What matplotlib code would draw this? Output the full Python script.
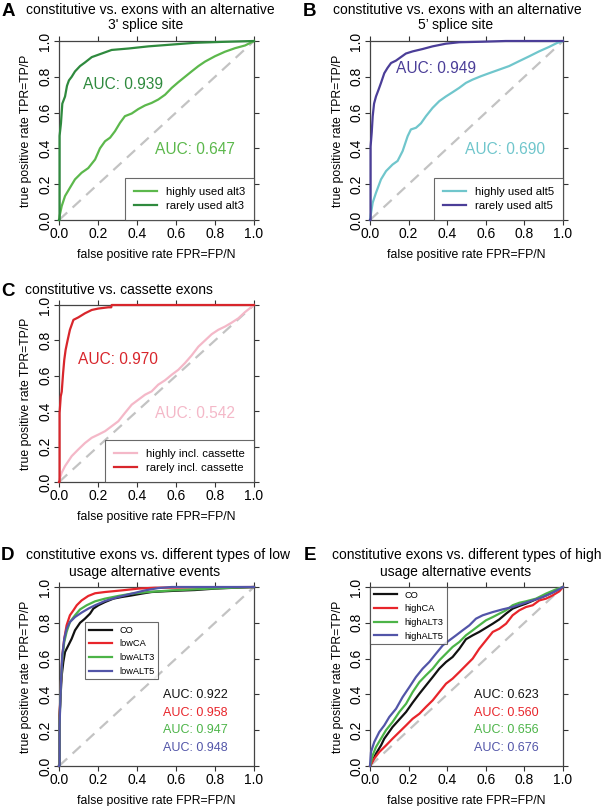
import matplotlib
matplotlib.use('Agg')
import matplotlib.pyplot as plt

plt.rcParams['font.family'] = ['Liberation Sans', 'DejaVu Sans']

# ---- data ----
# A: alternative 3' splice site
a_high_fpr = [0, 0.003, 0.014, 0.031, 0.056, 0.082, 0.116, 0.150, 0.185, 0.210, 0.236, 0.262, 0.287, 0.313, 0.338,
              0.373, 0.407, 0.441, 0.475, 0.509, 0.544, 0.578, 0.612, 0.646, 0.680, 0.715, 0.749, 0.800, 0.851,
              0.903, 0.954, 1.0]
a_high_tpr = [0, 0.022, 0.078, 0.134, 0.18, 0.227, 0.264, 0.29, 0.338, 0.40, 0.44, 0.46, 0.496, 0.543, 0.58,
              0.595, 0.62, 0.64, 0.654, 0.673, 0.70, 0.738, 0.77, 0.80, 0.83, 0.86, 0.885, 0.915, 0.94,
              0.96, 0.975, 1.0]
a_low_fpr = [0, 0.003, 0.003, 0.010, 0.017, 0.031, 0.041, 0.051, 0.065, 0.082, 0.108, 0.133, 0.168, 0.219, 0.270,
             0.356, 0.458, 0.578, 0.697, 0.834, 1.0]
a_low_tpr = [0, 0.0, 0.47, 0.54, 0.65, 0.69, 0.75, 0.78, 0.80, 0.83, 0.86, 0.88, 0.91, 0.93, 0.95,
             0.958, 0.97, 0.98, 0.99, 0.995, 1.0]

# B: alternative 5' splice site
b_high_fpr = [0, 0.003, 0.014, 0.031, 0.057, 0.083, 0.117, 0.143, 0.169, 0.195, 0.212, 0.238, 0.264, 0.290, 0.324,
              0.359, 0.393, 0.428, 0.462, 0.497, 0.531, 0.574, 0.617, 0.669, 0.721, 0.772, 0.824, 0.876, 0.928,
              0.971, 1.0]
b_high_tpr = [0, 0.022, 0.097, 0.152, 0.227, 0.273, 0.31, 0.33, 0.385, 0.468, 0.506, 0.515, 0.54, 0.58, 0.626,
              0.664, 0.69, 0.714, 0.738, 0.766, 0.784, 0.803, 0.82, 0.84, 0.86, 0.887, 0.914, 0.942, 0.967,
              0.99, 1.0]
b_low_fpr = [0, 0.003, 0.003, 0.009, 0.014, 0.021, 0.031, 0.045, 0.057, 0.074, 0.091, 0.109, 0.134, 0.160, 0.186,
             0.221, 0.272, 0.324, 0.393, 0.462, 0.583, 0.703, 1.0]
b_low_tpr = [0, 0.0, 0.41, 0.49, 0.58, 0.65, 0.69, 0.73, 0.766, 0.82, 0.85, 0.877, 0.89, 0.91, 0.93,
             0.942, 0.955, 0.97, 0.985, 0.993, 0.996, 1.0, 1.0]

# C: cassette exons
c_high_fpr = [0, 0.003, 0.014, 0.031, 0.065, 0.099, 0.133, 0.168, 0.202, 0.236, 0.270, 0.304, 0.338, 0.373, 0.407,
              0.441, 0.475, 0.509, 0.544, 0.578, 0.612, 0.646, 0.680, 0.715, 0.749, 0.783, 0.817, 0.851, 0.885,
              0.920, 0.954, 1.0]
c_high_tpr = [0, 0.015, 0.053, 0.09, 0.146, 0.184, 0.22, 0.25, 0.268, 0.287, 0.315, 0.343, 0.39, 0.437, 0.465,
              0.493, 0.512, 0.55, 0.575, 0.606, 0.634, 0.672, 0.715, 0.765, 0.80, 0.835, 0.86, 0.878, 0.90,
              0.925, 0.96, 1.0]
c_low_fpr = [0, 0.003, 0.003, 0.009, 0.014, 0.021, 0.027, 0.034, 0.044, 0.056, 0.074, 0.099, 0.133, 0.168, 0.202,
             0.253, 0.268, 0.270, 1.0]
c_low_tpr = [0, 0.0, 0.39, 0.484, 0.51, 0.615, 0.69, 0.747, 0.80, 0.86, 0.916, 0.93, 0.953, 0.972, 0.98,
             0.987, 0.987, 1.0, 1.0]

# D: low usage alternative events
d_co_fpr = [0, 0.003, 0.003, 0.009, 0.014, 0.022, 0.031, 0.048, 0.065, 0.082, 0.108, 0.133, 0.159, 0.176, 0.202,
            0.236, 0.279, 0.321, 0.373, 0.424, 0.475, 0.578, 0.697, 0.800, 0.903, 1.0]
d_co_tpr = [0, 0.0, 0.283, 0.41, 0.506, 0.58, 0.637, 0.674, 0.711, 0.758, 0.80, 0.823, 0.851, 0.879, 0.898,
            0.916, 0.935, 0.944, 0.953, 0.963, 0.972, 0.978, 0.983, 0.991, 0.996, 1.0]
d_ca_fpr = [0, 0.003, 0.003, 0.010, 0.017, 0.027, 0.039, 0.056, 0.074, 0.091, 0.116, 0.150, 0.185, 0.236, 0.321,
            0.407, 0.492, 1.0]
d_ca_tpr = [0, 0.0, 0.283, 0.469, 0.618, 0.711, 0.786, 0.842, 0.87, 0.898, 0.925, 0.95, 0.965, 0.972, 0.981,
            0.991, 0.996, 1.0]
d_alt3_fpr = [0, 0.003, 0.003, 0.010, 0.017, 0.027, 0.039, 0.056, 0.082, 0.108, 0.142, 0.185, 0.236, 0.304, 0.373,
              0.458, 0.578, 0.697, 0.834, 1.0]
d_alt3_tpr = [0, 0.0, 0.246, 0.469, 0.599, 0.693, 0.749, 0.804, 0.842, 0.875, 0.898, 0.92, 0.935, 0.95, 0.963,
              0.972, 0.981, 0.987, 0.994, 1.0]
d_alt5_fpr = [0, 0.003, 0.003, 0.010, 0.017, 0.027, 0.039, 0.056, 0.082, 0.116, 0.150, 0.185, 0.236, 0.304, 0.373,
              0.441, 0.509, 0.578, 1.0]
d_alt5_tpr = [0, 0.0, 0.227, 0.469, 0.618, 0.711, 0.767, 0.804, 0.832, 0.857, 0.879, 0.898, 0.922, 0.944, 0.963,
              0.981, 0.994, 1.0, 1.0]

# E: high usage alternative events
e_co_fpr = [0, 0.014, 0.031, 0.057, 0.074, 0.092, 0.117, 0.152, 0.187, 0.221, 0.256, 0.290, 0.325, 0.359, 0.394,
            0.428, 0.463, 0.497, 0.532, 0.566, 0.601, 0.636, 0.670, 0.705, 0.739, 0.774, 0.808, 0.860, 0.912,
            0.964, 1.0]
e_co_tpr = [0, 0.032, 0.069, 0.115, 0.153, 0.18, 0.218, 0.26, 0.302, 0.354, 0.404, 0.45, 0.497, 0.544, 0.581,
            0.609, 0.655, 0.708, 0.73, 0.749, 0.772, 0.795, 0.819, 0.851, 0.879, 0.894, 0.907, 0.931, 0.953,
            0.981, 1.0]
e_ca_fpr = [0, 0.022, 0.048, 0.083, 0.117, 0.152, 0.187, 0.221, 0.256, 0.290, 0.325, 0.359, 0.394, 0.428, 0.463,
            0.497, 0.532, 0.566, 0.601, 0.636, 0.670, 0.705, 0.739, 0.774, 0.808, 0.843, 0.877, 0.912, 0.946,
            0.981, 1.0]
e_ca_tpr = [0, 0.041, 0.078, 0.115, 0.153, 0.19, 0.227, 0.264, 0.292, 0.33, 0.367, 0.413, 0.46, 0.488, 0.525,
            0.562, 0.60, 0.655, 0.702, 0.749, 0.767, 0.795, 0.842, 0.87, 0.888, 0.898, 0.925, 0.935, 0.953,
            0.976, 1.0]
e_alt3_fpr = [0, 0.014, 0.031, 0.057, 0.083, 0.117, 0.152, 0.187, 0.221, 0.256, 0.290, 0.325, 0.359, 0.394, 0.428,
              0.463, 0.497, 0.532, 0.566, 0.601, 0.636, 0.670, 0.705, 0.739, 0.774, 0.808, 0.860, 0.912, 0.964, 1.0]
e_alt3_tpr = [0, 0.06, 0.106, 0.153, 0.2, 0.246, 0.302, 0.348, 0.413, 0.469, 0.507, 0.544, 0.59, 0.628, 0.665,
              0.693, 0.73, 0.758, 0.786, 0.814, 0.832, 0.851, 0.87, 0.898, 0.912, 0.92, 0.935, 0.963, 0.987, 1.0]
e_alt5_fpr = [0, 0.005, 0.022, 0.048, 0.074, 0.100, 0.135, 0.169, 0.204, 0.238, 0.273, 0.307, 0.342, 0.377, 0.411,
              0.446, 0.480, 0.515, 0.549, 0.584, 0.636, 0.687, 0.739, 0.791, 0.843, 0.895, 0.946, 1.0]
e_alt5_tpr = [0, 0.078, 0.134, 0.19, 0.227, 0.274, 0.32, 0.385, 0.441, 0.497, 0.544, 0.581, 0.628, 0.674, 0.702,
              0.73, 0.758, 0.786, 0.823, 0.842, 0.86, 0.875, 0.888, 0.907, 0.925, 0.944, 0.968, 1.0]

auc_a = ['0.647', '0.939']
auc_b = ['0.690', '0.949']
auc_c = ['0.542', '0.970']
auc_d = ['0.922', '0.958', '0.947', '0.948']
auc_e = ['0.623', '0.560', '0.656', '0.676']

ticks = [0.0, 0.2, 0.4, 0.6, 0.8, 1.0]
tick_labels = ['0.0', '0.2', '0.4', '0.6', '0.8', '1.0']

# colours
c_lgreen, c_dgreen = '#5cb84c', '#2f8a3e'
c_cyan, c_indigo = '#70c6cc', '#4b3e98'
c_pink, c_red = '#f4b8c8', '#d8262c'
c_black, c_red2, c_green2, c_blue2 = '#111111', '#e8252b', '#4cb448', '#5255a8'

W, H = 604, 806
fig = plt.figure(figsize=(W / 100, H / 100), dpi=100)


def make_axes(x0, y0, x1, y1):
    ax = fig.add_axes([x0 / W, 1 - y1 / H, (x1 - x0) / W, (y1 - y0) / H])
    ax.plot([0, 1], [0, 1], color='#c3c3c3', lw=1.6, dashes=[5, 3.3], zorder=1)
    ax.set_xlim(0, 1)
    ax.set_ylim(0, 1)
    ax.set_xticks(ticks)
    ax.set_yticks(ticks)
    ax.set_xticklabels(tick_labels)
    ax.set_yticklabels(tick_labels, rotation=90, va='center')
    ax.tick_params(direction='out', length=3.5, width=0.8, pad=1.5, labelsize=10,
                   top=True, right=True, colors='#333333', labelcolor='black')
    for s in ax.spines.values():
        s.set_color('#444444')
        s.set_linewidth(0.9)
    ax.set_xlabel('false positive rate FPR=FP/N', fontsize=8.8, labelpad=6)
    ax.set_ylabel('true positive rate TPR=TP/P', fontsize=8.8, labelpad=4)
    return ax


def curve(ax, fx, ty, col, lab):
    ax.plot(fx, ty, color=col, lw=1.6, label=lab, zorder=3, clip_on=False)


def small_legend(ax, **kw):
    leg = ax.legend(fancybox=False, borderaxespad=0, **kw)
    leg.get_frame().set_edgecolor('#444444')
    leg.get_frame().set_linewidth(0.8)
    leg.set_zorder(4)


def big_legend(ax):
    small_legend(ax, loc='lower right', fontsize=8.2, handlelength=2.0, handletextpad=0.8,
                 borderpad=0.8, labelspacing=0.3)


def ftext(x, y, s, **kw):
    fig.text(x / W, 1 - y / H, s, ha='center', va='center', **kw)


def letter(x, y, s):
    ftext(x, y, s, fontsize=13.5, fontweight='bold')


# ---- A ----
ax = make_axes(59, 41, 254, 220)
curve(ax, a_high_fpr, a_high_tpr, c_lgreen, 'highly used alt3')
curve(ax, a_low_fpr, a_low_tpr, c_dgreen, 'rarely used alt3')
ax.text(0.125, 0.756, 'AUC: ' + auc_a[1], color=c_dgreen, fontsize=11.2, va='center')
ax.text(0.49, 0.394, 'AUC: ' + auc_a[0], color=c_lgreen, fontsize=11.2, va='center')
big_legend(ax)
letter(8, 11, 'A')
ftext(150, 10, 'constitutive vs. exons with an alternative', fontsize=10)
ftext(146, 25, "3' splice site", fontsize=10)

# ---- B ----
ax = make_axes(370, 41, 563, 220)
curve(ax, b_high_fpr, b_high_tpr, c_cyan, 'highly used alt5')
curve(ax, b_low_fpr, b_low_tpr, c_indigo, 'rarely used alt5')
ax.text(0.134, 0.846, 'AUC: ' + auc_b[1], color=c_indigo, fontsize=11.2, va='center')
ax.text(0.493, 0.394, 'AUC: ' + auc_b[0], color=c_cyan, fontsize=11.2, va='center')
big_legend(ax)
letter(310, 11, 'B')
ftext(457, 10, 'constitutive vs. exons with an alternative', fontsize=10)
ftext(456, 25, "5\u2019 splice site", fontsize=10)

# ---- C ----
ax = make_axes(59, 305, 254, 482)
curve(ax, c_high_fpr, c_high_tpr, c_pink, 'highly incl. cassette')
curve(ax, c_low_fpr, c_low_tpr, c_red, 'rarely incl. cassette')
ax.text(0.096, 0.69, 'AUC: ' + auc_c[1], color=c_red, fontsize=11.2, va='center')
ax.text(0.492, 0.385, 'AUC: ' + auc_c[0], color=c_pink, fontsize=11.2, va='center')
big_legend(ax)
letter(8, 291, 'C')
ftext(119, 290, 'constitutive vs. cassette exons', fontsize=10)

# ---- D ----
ax = make_axes(59, 587, 254, 766)
d_series = [(d_co_fpr, d_co_tpr, c_black, 'CO'), (d_ca_fpr, d_ca_tpr, c_red2, 'lowCA'),
            (d_alt3_fpr, d_alt3_tpr, c_green2, 'lowALT3'), (d_alt5_fpr, d_alt5_tpr, c_blue2, 'lowALT5')]
for (fx, ty, col, lab), auc, yy in zip(d_series, auc_d, [0.398, 0.298, 0.199, 0.102]):
    curve(ax, fx, ty, col, lab)
    ax.text(0.532, yy, 'AUC: ' + auc, color=col, fontsize=9, va='center')
small_legend(ax, loc='upper left', bbox_to_anchor=(0.133, 0.804), fontsize=6.7, handlelength=2.5)
letter(8, 555, 'D')
ftext(158, 555, 'constitutive exons vs. different types of low', fontsize=10)
ftext(145, 572, 'usage alternative events', fontsize=10)

# ---- E ----
ax = make_axes(370, 587, 563, 766)
e_series = [(e_co_fpr, e_co_tpr, c_black, 'CO'), (e_ca_fpr, e_ca_tpr, c_red2, 'highCA'),
            (e_alt3_fpr, e_alt3_tpr, c_green2, 'highALT3'), (e_alt5_fpr, e_alt5_tpr, c_blue2, 'highALT5')]
for (fx, ty, col, lab), auc, yy in zip(e_series, auc_e, [0.398, 0.298, 0.199, 0.102]):
    curve(ax, fx, ty, col, lab)
    ax.text(0.537, yy, 'AUC: ' + auc, color=col, fontsize=9, va='center')
small_legend(ax, loc='upper left', fontsize=6.7, handlelength=2.5)
letter(310, 555, 'E')
ftext(467, 555, 'constitutive exons vs. different types of high', fontsize=10)
ftext(456, 572, 'usage alternative events', fontsize=10)

fig.savefig('out.png', dpi=100)
